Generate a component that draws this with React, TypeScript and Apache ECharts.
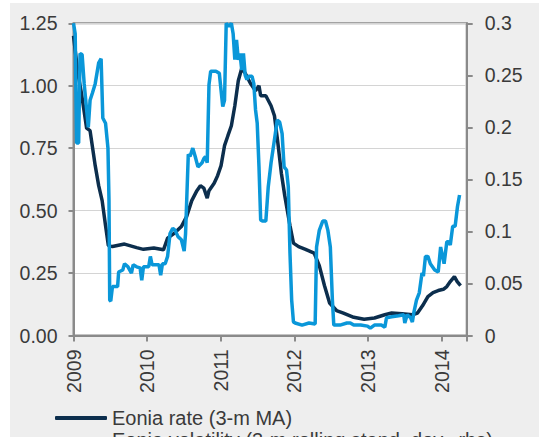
import React, { useEffect, useRef } from "react";
import * as echarts from "echarts";

// Eonia rate (3-m MA), left axis — [decimal year, %]
const rateYears = [
  2009.0, 2009.06, 2009.108, 2009.178, 2009.225, 2009.295, 2009.342, 2009.389, 2009.435, 2009.473,
  2009.529, 2009.693, 2009.857, 2009.95, 2010.091, 2010.222, 2010.278, 2010.372, 2010.465, 2010.536,
  2010.606, 2010.676, 2010.723, 2010.77, 2010.816, 2010.84, 2010.91, 2010.957, 2011.004, 2011.051,
  2011.097, 2011.144, 2011.191, 2011.238, 2011.285, 2011.332, 2011.402, 2011.472, 2011.519, 2011.542,
  2011.612, 2011.683, 2011.729, 2011.776, 2011.823, 2011.869, 2011.94, 2011.987, 2012.057, 2012.151,
  2012.268, 2012.338, 2012.408, 2012.478, 2012.572, 2012.666, 2012.806, 2012.947, 2013.087, 2013.228,
  2013.321, 2013.462, 2013.602, 2013.672, 2013.742, 2013.813, 2013.883, 2013.953, 2014.023, 2014.07,
  2014.117, 2014.173, 2014.211, 2014.257,
];
const rateValues = [
  1.2, 1.05, 0.97, 0.83, 0.82, 0.68, 0.6, 0.54, 0.44, 0.36,
  0.356, 0.366, 0.352, 0.345, 0.35, 0.343, 0.39, 0.41, 0.436, 0.476,
  0.54, 0.58, 0.6, 0.59, 0.55, 0.58, 0.61, 0.64, 0.68, 0.76,
  0.8, 0.84, 0.92, 1.02, 1.07, 1.05, 1.01, 0.98, 1.0, 0.96,
  0.96, 0.92, 0.88, 0.77, 0.65, 0.56, 0.44, 0.37, 0.356, 0.345,
  0.33, 0.28, 0.2, 0.13, 0.1, 0.09, 0.073, 0.065, 0.07, 0.083,
  0.09, 0.087, 0.083, 0.09, 0.12, 0.156, 0.172, 0.18, 0.185, 0.196,
  0.216, 0.236, 0.216, 0.2,
];

// Eonia volatility (3-m rolling stand. dev.), right axis — [decimal year, value]
const volYears = [
  2009.0, 2009.023, 2009.042, 2009.07, 2009.089, 2009.117, 2009.145, 2009.178, 2009.201, 2009.225,
  2009.257, 2009.295, 2009.342, 2009.375, 2009.398, 2009.435, 2009.468, 2009.482, 2009.492, 2009.506,
  2009.529, 2009.599, 2009.613, 2009.669, 2009.693, 2009.74, 2009.787, 2009.81, 2009.857, 2009.904,
  2009.927, 2009.95, 2010.021, 2010.044, 2010.067, 2010.161, 2010.184, 2010.208, 2010.245, 2010.278,
  2010.311, 2010.348, 2010.381, 2010.419, 2010.465, 2010.503, 2010.522, 2010.559, 2010.582, 2010.62,
  2010.653, 2010.69, 2010.746, 2010.77, 2010.793, 2010.816, 2010.84, 2010.863, 2010.934, 2010.98,
  2011.027, 2011.051, 2011.074, 2011.111, 2011.144, 2011.168, 2011.191, 2011.214, 2011.238, 2011.261,
  2011.285, 2011.308, 2011.332, 2011.355, 2011.378, 2011.425, 2011.449, 2011.472, 2011.495, 2011.519,
  2011.542, 2011.566, 2011.612, 2011.645, 2011.683, 2011.729, 2011.767, 2011.8, 2011.833, 2011.86,
  2011.893, 2011.917, 2011.94, 2011.963, 2011.987, 2012.01, 2012.104, 2012.198, 2012.282, 2012.301,
  2012.338, 2012.385, 2012.422, 2012.455, 2012.488, 2012.516, 2012.535, 2012.619, 2012.713, 2012.759,
  2012.806, 2012.9, 2012.993, 2013.031, 2013.087, 2013.181, 2013.228, 2013.251, 2013.321, 2013.415,
  2013.485, 2013.499, 2013.532, 2013.579, 2013.602, 2013.625, 2013.658, 2013.696, 2013.733, 2013.752,
  2013.78, 2013.813, 2013.846, 2013.906, 2013.953, 2013.986, 2014.009, 2014.033, 2014.07, 2014.094,
  2014.117, 2014.15, 2014.183, 2014.215, 2014.243,
];
const volValues = [
  0.3, 0.29, 0.185, 0.185, 0.271, 0.27, 0.242, 0.217, 0.2, 0.226,
  0.233, 0.242, 0.262, 0.266, 0.209, 0.204, 0.18, 0.13, 0.034, 0.033,
  0.047, 0.047, 0.061, 0.063, 0.069, 0.066, 0.06, 0.068, 0.066, 0.065,
  0.053, 0.066, 0.066, 0.076, 0.068, 0.068, 0.058, 0.069, 0.069, 0.076,
  0.098, 0.103, 0.101, 0.095, 0.092, 0.081, 0.098, 0.174, 0.172, 0.18,
  0.172, 0.162, 0.166, 0.17, 0.172, 0.166, 0.241, 0.254, 0.254, 0.252,
  0.22, 0.226, 0.3, 0.297, 0.3, 0.29, 0.265, 0.284, 0.265, 0.271,
  0.255, 0.271, 0.25, 0.246, 0.249, 0.249, 0.242, 0.217, 0.204, 0.162,
  0.111, 0.11, 0.11, 0.143, 0.166, 0.188, 0.207, 0.205, 0.194, 0.162,
  0.159, 0.143, 0.079, 0.034, 0.013, 0.012, 0.01, 0.012, 0.011, 0.085,
  0.101, 0.11, 0.11, 0.101, 0.085, 0.034, 0.01, 0.01, 0.012, 0.012,
  0.01, 0.01, 0.009, 0.007, 0.01, 0.01, 0.008, 0.017, 0.018, 0.019,
  0.02, 0.012, 0.02, 0.017, 0.013, 0.023, 0.034, 0.041, 0.06, 0.057,
  0.076, 0.076, 0.069, 0.063, 0.061, 0.085, 0.077, 0.069, 0.09, 0.09,
  0.087, 0.105, 0.105, 0.124, 0.135,
];

const seriesNames = [
  "Eonia rate (3-m MA)",
  "Eonia volatility (3-m rolling stand. dev., rhs)",
];

const FONT = "'Liberation Sans', Arial, sans-serif";
const AXIS_COLOR = "#8a8a8a";
const TEXT_COLOR = "#3a3a3a";

export default function App() {
  const ref = useRef<HTMLDivElement>(null);

  useEffect(() => {
    if (!ref.current) return;
    const chart = echarts.init(ref.current, undefined, { renderer: "svg" });
    const rateData = rateYears.map((y, i) => [y, rateValues[i]]);
    const volData = volYears.map((y, i) => [y, volValues[i]]);
    chart.setOption({
      animation: false,
      backgroundColor: "#eeeeee",
      textStyle: { fontFamily: FONT },
      grid: {
        left: 63.5,
        top: 20.3,
        width: 393.2,
        height: 312.2,
        show: true,
        backgroundColor: "#ffffff",
        borderColor: AXIS_COLOR,
        borderWidth: 2,
      },
      legend: {
        orient: "vertical",
        left: 45,
        top: 405,
        padding: 0,
        itemGap: 2,
        itemWidth: 52,
        itemHeight: 4,
        icon: "roundRect",
        data: seriesNames,
        textStyle: { fontSize: 20, color: TEXT_COLOR, fontFamily: FONT },
      },
      xAxis: {
        type: "value",
        min: 2009,
        max: 2014.34,
        interval: 1,
        axisLine: { show: true, lineStyle: { color: AXIS_COLOR, width: 2 } },
        axisTick: { show: true, length: 6, lineStyle: { color: AXIS_COLOR, width: 2 } },
        splitLine: { show: false },
        axisLabel: {
          rotate: 90,
          margin: 14,
          fontSize: 19.5,
          color: TEXT_COLOR,
          fontFamily: FONT,
          formatter: (v: number) => (Math.abs(v - Math.round(v)) < 1e-6 ? String(Math.round(v)) : ""),
        },
      },
      yAxis: [
        {
          type: "value",
          min: 0,
          max: 1.25,
          interval: 0.25,
          position: "left",
          axisLine: { show: true, lineStyle: { color: AXIS_COLOR, width: 2 } },
          axisTick: { show: true, length: 5, lineStyle: { color: AXIS_COLOR, width: 2 } },
          splitLine: { show: true, lineStyle: { color: "#d4d4d4", width: 1 } },
          axisLabel: {
            margin: 16,
            fontSize: 19.5,
            color: TEXT_COLOR,
            fontFamily: FONT,
            formatter: (v: number) => v.toFixed(2),
          },
        },
        {
          type: "value",
          min: 0,
          max: 0.3,
          interval: 0.05,
          position: "right",
          axisLine: { show: true, lineStyle: { color: AXIS_COLOR, width: 2 } },
          axisTick: { show: true, length: 6, lineStyle: { color: AXIS_COLOR, width: 2 } },
          splitLine: { show: false },
          axisLabel: {
            margin: 18,
            fontSize: 19.5,
            color: TEXT_COLOR,
            fontFamily: FONT,
            formatter: (v: number) => String(parseFloat(v.toFixed(2))),
          },
        },
      ],
      series: [
        {
          name: seriesNames[0],
          type: "line",
          yAxisIndex: 0,
          data: rateData,
          symbol: "none",
          clip: true,
          lineStyle: { color: "#0c2e4d", width: 3.5 },
          itemStyle: { color: "#0c2e4d" },
        },
        {
          name: seriesNames[1],
          type: "line",
          yAxisIndex: 1,
          data: volData,
          symbol: "none",
          clip: true,
          lineStyle: { color: "#0a97d9", width: 3.5 },
          itemStyle: { color: "#0a97d9" },
        },
      ],
    });
    return () => chart.dispose();
  }, []);

  return (
    <div
      style={{
        position: "fixed",
        left: 0,
        top: 0,
        width: 539,
        height: 437,
        overflow: "hidden",
        background: "#ffffff",
      }}
    >
      <div
        ref={ref}
        style={{ position: "absolute", left: 10, top: 3, width: 529, height: 460 }}
      />
    </div>
  );
}
